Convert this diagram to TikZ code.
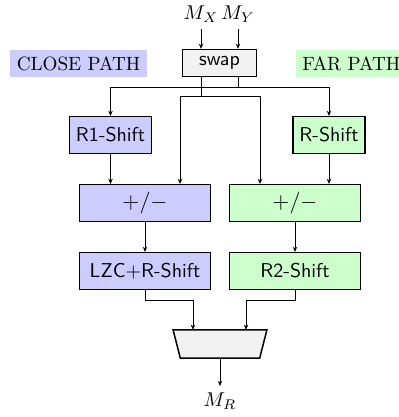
\documentclass[tikz,border=0pt]{standalone}
\usetikzlibrary{arrows.meta,calc}
\definecolor{closec}{HTML}{CCCCFF}
\definecolor{farc}{HTML}{CCFFCC}
\definecolor{greyc}{HTML}{F2F2F2}
\tikzset{
  blk/.style={draw, line width=0.75pt, font=\sffamily, inner sep=0pt, minimum height=18.3pt},
  lbl/.style={font=\fontsize{9.6}{11}\selectfont, inner xsep=3pt, inner ysep=0pt, minimum height=13.5pt},
  conn/.style={line width=0.4pt},
  arr/.style={conn, -{Stealth[length=2.6pt,width=2.2pt]}},
  io/.style={inner sep=3pt}
}
\begin{document}
\begin{tikzpicture}[x=0.5pt,y=-0.5pt]
\useasboundingbox (0,0) rectangle (399,417);
% inputs
\node[io, anchor=south] (mx) at (201,29) {$M_X$};
\node[io, anchor=south] (my) at (238,29) {$M_Y$};
% labels
\node[lbl, fill=closec, minimum width=68.5pt] (close) at (78.5,63.5) {CLOSE PATH};
\node[lbl, fill=farc, anchor=west] (far) at (296,63.5) {FAR PATH};
% blocks
\node[blk, fill=greyc, minimum width=36.8pt, minimum height=13.4pt] (swap) at (219.5,63) {swap};
\node[blk, fill=closec, minimum width=40.8pt] (r1) at (110.5,135) {R1-Shift};
\node[blk, fill=farc, minimum width=35.8pt] (rs) at (329,135) {R-Shift};
\node[blk, fill=closec, minimum width=65.3pt, font=\fontsize{10.7}{12}\selectfont] (addl) at (145,203) {$+/-$};
\node[blk, fill=farc, minimum width=65.3pt, font=\fontsize{10.7}{12}\selectfont] (addr) at (295,203) {$+/-$};
\node[blk, fill=closec, minimum width=65.3pt] (lzc) at (145,271) {LZC+R-Shift};
\node[blk, fill=farc, minimum width=65.3pt] (r2) at (295,271) {R2-Shift};
% mux
\node[minimum width=46.5pt, minimum height=13.7pt, inner sep=0pt] (mux) at (220,344) {};
\draw[line width=0.75pt, fill=greyc] (mux.north west) -- (mux.north east)
  -- ([xshift=-3.6pt]mux.south east) -- ([xshift=3.6pt]mux.south west) -- cycle;
% output
\node[io, anchor=north] (mr) at (220,386) {$M_R$};
% connectors
\draw[arr] (mx.south) -- (swap.north -| mx.south);
\draw[arr] (my.south) -- (swap.north -| my.south);
\coordinate (b1) at (238,87);
\coordinate (b2) at (201,96);
\coordinate (b2l) at (180,96);
\coordinate (b2r) at (260,96);
\draw[conn] (swap.south -| my.south) -- (b1);
\draw[arr] (b1) -| (r1.north);
\draw[arr] (b1) -| (rs.north);
\draw[conn] (swap.south -| mx.south) -- (b2);
\draw[conn] (b2l) -- (b2r);
\draw[arr] (b2l) -- (b2l |- addl.north);
\draw[arr] (b2r) -- (b2r |- addr.north);
\draw[arr] (r1.south) -- (r1.south |- addl.north);
\draw[arr] (rs.south) -- (rs.south |- addr.north);
\draw[arr] (addl.south) -- (lzc.north);
\draw[arr] (addr.south) -- (r2.north);
\coordinate (m1) at (193,300);
\coordinate (m2) at (246,300);
\draw[arr] (lzc.south) |- (m1) -- (m1 |- mux.north);
\draw[arr] (r2.south) |- (m2) -- (m2 |- mux.north);
\draw[arr] (mux.south) -- (mr.north);
\end{tikzpicture}
\end{document}
